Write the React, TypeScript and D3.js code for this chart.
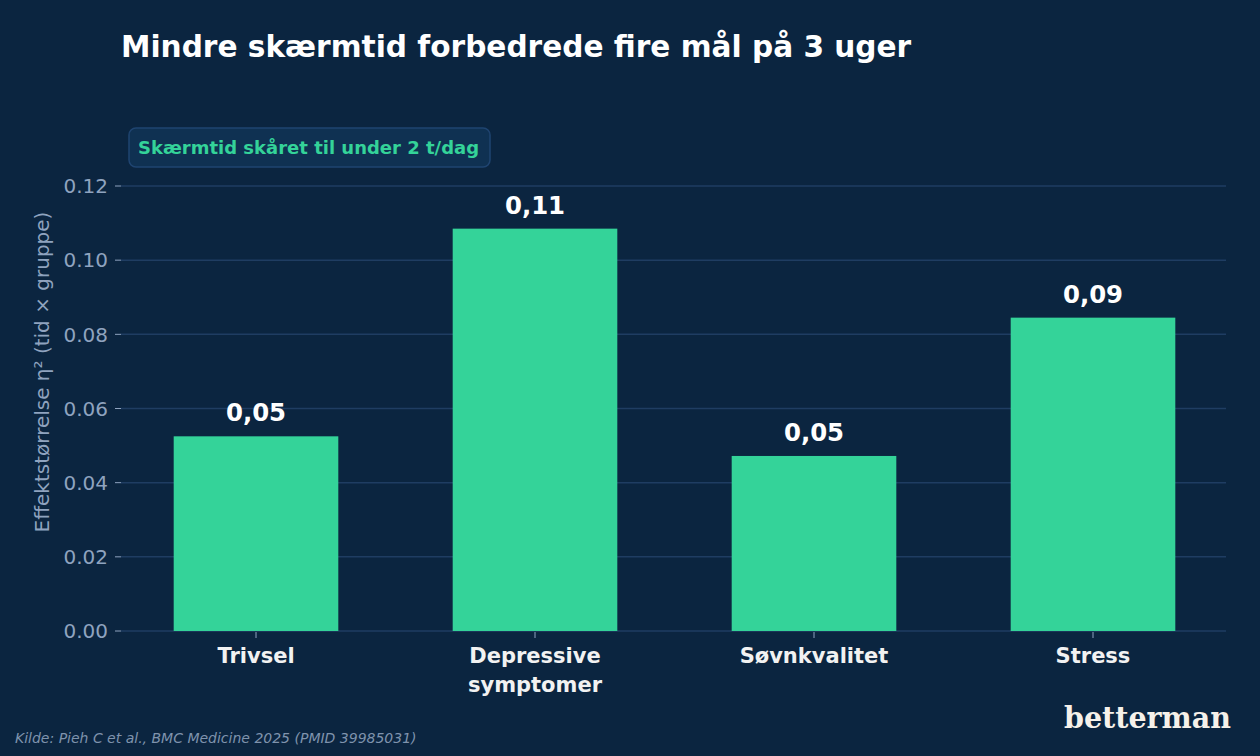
import React from 'react';
import * as d3 from 'd3';

const categories = ['Trivsel', 'Depressive\nsymptomer', 'Søvnkvalitet', 'Stress'];
const values = [0.0525, 0.1085, 0.0472, 0.0845];
const valueLabels = ['0,05', '0,11', '0,05', '0,09'];
const yTicks = [0, 0.02, 0.04, 0.06, 0.08, 0.1, 0.12];

const W = 1260;
const H = 756;
const BG = '#0b2540';
const GREEN = '#34d399';
const MUTED = '#8fa3bf';
const GRID = '#1f3d62';

const App: React.FC = () => {
  const plotLeft = 121;
  const plotRight = 1226;

  const x = d3.scaleBand<string>()
    .domain(categories)
    .range([116.5, 1232.5])
    .paddingInner(0.41)
    .paddingOuter(0.205);

  const y = d3.scaleLinear()
    .domain([0, 0.12])
    .range([631, 186]);

  return (
    <svg width={W} height={H} style={{ position: 'absolute', left: 0, top: 0, background: BG }}
      fontFamily="'DejaVu Sans', sans-serif">
      <rect width={W} height={H} fill={BG} />

      <text x={121} y={57} fill="#ffffff" fontSize={29.6} fontWeight="bold">
        Mindre skærmtid forbedrede fire mål på 3 uger
      </text>

      {/* grid + y ticks */}
      {yTicks.map(t => (
        <g key={t}>
          <line x1={plotLeft} x2={plotRight} y1={y(t)} y2={y(t)} stroke={GRID} strokeWidth={1.5} />
          <line x1={115} x2={121} y1={y(t)} y2={y(t)} stroke={MUTED} strokeWidth={1} />
          <text x={108} y={y(t)} dy="0.36em" textAnchor="end" fill={MUTED} fontSize={20}>
            {d3.format('.2f')(t)}
          </text>
        </g>
      ))}

      <text transform={`translate(49,372) rotate(-90)`} textAnchor="middle" fill={MUTED} fontSize={20}>
        Effektstørrelse η² (tid × gruppe)
      </text>

      {/* bars */}
      {categories.map((c, i) => {
        const bx = x(c) ?? 0;
        const bw = x.bandwidth();
        const cx = bx + bw / 2;
        return (
          <g key={c}>
            <rect x={bx} y={y(values[i])} width={bw} height={y(0) - y(values[i])} fill={GREEN} />
            <text x={cx} y={y(values[i]) - 15} textAnchor="middle" fill="#ffffff" fontSize={24.4} fontWeight="bold">
              {valueLabels[i]}
            </text>
            <line x1={cx} x2={cx} y1={632} y2={638} stroke={MUTED} strokeWidth={1} />
            {c.split('\n').map((line, j) => (
              <text key={j} x={cx} y={663 + j * 29} textAnchor="middle" fill="#f2f2f2" fontSize={21} fontWeight="bold">
                {line}
              </text>
            ))}
          </g>
        );
      })}

      {/* legend */}
      <rect x={129} y={128} width={361} height={39} rx={7} fill="#0f3152" stroke="#1f4470" strokeWidth={1.5} />
      <text x={138} y={154} fill={GREEN} fontSize={18} fontWeight="bold">
        Skærmtid skåret til under 2 t/dag
      </text>

      <text x={15} y={743} fill="#7f93ad" fontSize={14} fontStyle="italic">
        Kilde: Pieh C et al., BMC Medicine 2025 (PMID 39985031)
      </text>

      <text x={1231} y={728} textAnchor="end" fill="#f6f1ea" fontSize={30} fontWeight="bold"
        fontFamily="'DejaVu Serif', serif" textLength={167} lengthAdjust="spacingAndGlyphs">
        betterman
      </text>
    </svg>
  );
};

export default App;
